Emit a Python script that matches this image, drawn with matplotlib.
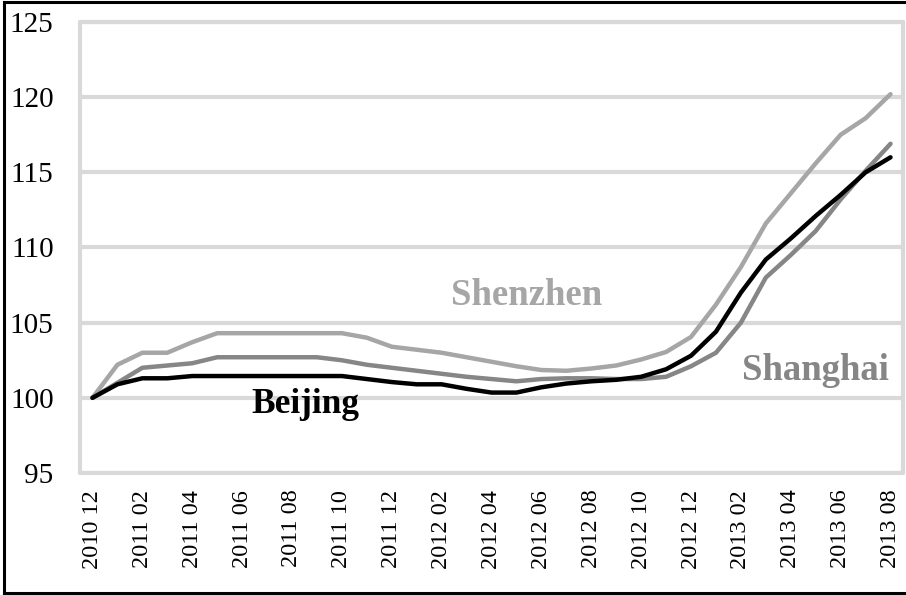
import matplotlib.pyplot as plt
import numpy as np
from matplotlib.lines import Line2D

# Monthly index values, 2010 12 = 100
months = ['2010 12', '2011 01', '2011 02', '2011 03', '2011 04', '2011 05', '2011 06',
          '2011 07', '2011 08', '2011 09', '2011 10', '2011 11', '2011 12',
          '2012 01', '2012 02', '2012 03', '2012 04', '2012 05', '2012 06',
          '2012 07', '2012 08', '2012 09', '2012 10', '2012 11', '2012 12',
          '2013 01', '2013 02', '2013 03', '2013 04', '2013 05', '2013 06',
          '2013 07', '2013 08']

shenzhen = [100.0, 102.2, 103.0, 103.0, 103.7, 104.3, 104.3, 104.3, 104.3, 104.3, 104.3,
            104.0, 103.4, 103.2, 103.0, 102.7, 102.4, 102.1, 101.85, 101.8, 101.95,
            102.15, 102.55, 103.05, 104.05, 106.2, 108.7, 111.6, 113.6, 115.6, 117.5,
            118.6, 120.2]
shanghai = [100.0, 101.0, 102.0, 102.15, 102.3, 102.7, 102.7, 102.7, 102.7, 102.7, 102.5,
            102.2, 102.0, 101.8, 101.6, 101.4, 101.25, 101.1, 101.25, 101.3, 101.3,
            101.25, 101.25, 101.4, 102.1, 103.0, 105.0, 108.0, 109.5, 111.1, 113.2,
            115.1, 116.9]
beijing = [100.0, 100.9, 101.3, 101.3, 101.45, 101.45, 101.45, 101.45, 101.45, 101.45,
           101.45, 101.25, 101.05, 100.9, 100.9, 100.6, 100.35, 100.35, 100.7, 100.95,
           101.1, 101.2, 101.4, 101.9, 102.8, 104.4, 107.0, 109.2, 110.6, 112.1, 113.5,
           115.0, 116.0]

grid_color = '#d9d9d9'
serif = ['Liberation Serif', 'DejaVu Serif']

fig = plt.figure(figsize=(9.06, 5.95), dpi=100)
ax = fig.add_axes([80 / 906, 122 / 595, 823 / 906, 451 / 595])

x = np.arange(len(months))
ax.plot(x, shenzhen, color='#a6a6a6', lw=3.2, solid_joinstyle='round', solid_capstyle='round', zorder=3)
ax.plot(x, shanghai, color='#868686', lw=3.2, solid_joinstyle='round', solid_capstyle='round', zorder=4)
ax.plot(x, beijing, color='#000000', lw=3.2, solid_joinstyle='round', solid_capstyle='round', zorder=5)

ax.set_xlim(-0.5, len(months) - 0.5)
ax.set_ylim(95, 125)
ax.set_yticks(np.arange(95, 126, 5))
ax.set_xticks(x[::2])
ax.set_xticklabels(months[::2], rotation=90, fontsize=17.5, family=serif)
for lab in ax.get_yticklabels():
    lab.set_family(serif)
    lab.set_fontsize(21)
ax.tick_params(axis='both', length=0)
ax.tick_params(axis='y', pad=19)
ax.tick_params(axis='x', pad=12)

ax.grid(axis='y', color=grid_color, lw=3, zorder=0)
ax.set_axisbelow(True)
for s in ax.spines.values():
    s.set_color(grid_color)
    s.set_linewidth(3)
    s.set_capstyle('round')

ax.text(17.4, 106.2, 'Shenzhen', color='#a6a6a6', fontsize=26.5, fontweight='bold',
        family=serif, ha='center', va='baseline')
ax.text(8.53, 99.0, 'Beijing', color='#000000', fontsize=25.5, fontweight='bold',
        family=serif, ha='center', va='baseline')
ax.text(29.0, 101.2, 'Shanghai', color='#868686', fontsize=26.5, fontweight='bold',
        family=serif, ha='center', va='baseline')

# outer frame (left, top, bottom)
for xs, ys in [([0.004, 0.004], [0.004, 0.996]), ([0.004, 1.0], [0.996, 0.996]),
               ([0.004, 1.0], [0.004, 0.004])]:
    fig.add_artist(Line2D(xs, ys, color='black', lw=2.2, transform=fig.transFigure))

fig.savefig('out.png', dpi=100)
